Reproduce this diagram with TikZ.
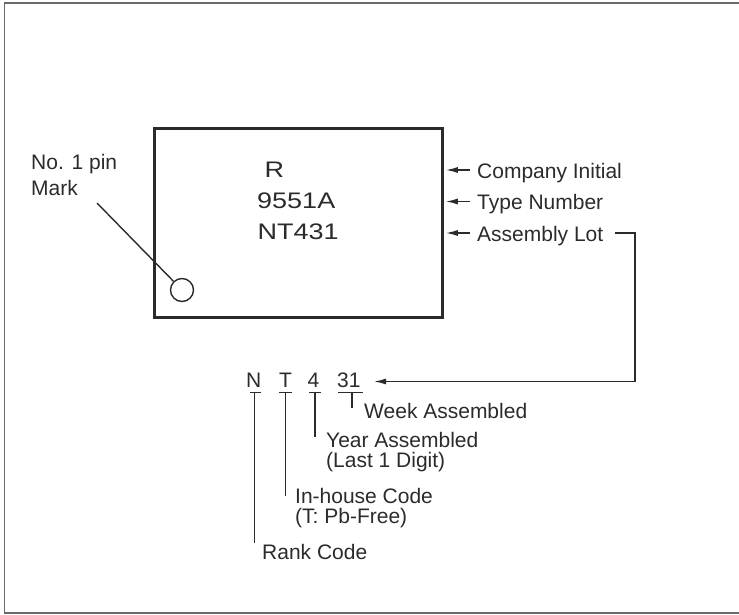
\documentclass[tikz,border=0pt]{standalone}
\usepackage{fontspec}
\setmainfont{Liberation Sans}
\newfontfamily\chipfont[FakeStretch=1.2]{Liberation Sans}
\usetikzlibrary{arrows.meta}
\definecolor{ink}{HTML}{2B2B2B}
\definecolor{framec}{HTML}{6A6A6A}
\tikzset{
  lbl/.style={anchor=base west, inner sep=0pt, text=ink, align=left,
              font=\fontsize{21}{20}\selectfont},
  chiplbl/.style={anchor=base west, inner sep=0pt, text=ink,
              font=\chipfont\fontsize{22.5}{27}\selectfont},
  thin/.style={draw=ink, line width=1.4pt},
  thick/.style={draw=ink, line width=2.8pt},
  tip/.style={-{Latex[length=12pt,width=6pt]}},
  frameline/.style={draw=framec, line width=1.6pt}
}
\begin{document}
\begin{tikzpicture}[x=1pt,y=-1pt]
\useasboundingbox (0,0) rectangle (739,615);
% outer frame (right side open)
\draw[frameline] (739,3) -- (4.5,3) -- (4.5,613) -- (739,613);

% chip body
\node[thick, rectangle, inner sep=0pt, minimum width=288pt, minimum height=189pt, anchor=north west] (chip) at (153,127) {};
\node[circle, thin, minimum size=23pt, inner sep=0pt] (pin) at (182,290) {};

% chip marking
\node[chiplbl] (mR) at (264.5,177) {R};
\node[chiplbl] (mType) at (257,208.5) {9551A};
\node[chiplbl] (mLot) at (257.5,239) {NT431};

% pin mark label (base anchor = last line)
\node[lbl, font=\fontsize{21}{25.7}\selectfont] (pinlbl) at (31,195.7) {No. 1 pin\\Mark};
\coordinate (pinstart) at (97,203);
\draw[thin] (pinstart) -- (pin);

% right side labels
\node[lbl] (company) at (477,178.3) {Company Initial};
\node[lbl] (typeno) at (477,209.3) {Type Number};
\node[lbl] (lot) at (477,241) {Assembly Lot};
\coordinate (a1) at (470,170);
\coordinate (a2) at (470,201.5);
\coordinate (a3) at (470,233);
\draw[thin,tip] (a1) -- ([xshift=2pt]a1 -| chip.east);
\draw[thin,tip] (a2) -- ([xshift=2pt]a2 -| chip.east);
\draw[thin,tip] (a3) -- ([xshift=2pt]a3 -| chip.east);

% lot code breakdown
\node[lbl] (cN) at (246,387.3) {N};
\node[lbl] (cT) at (279,387.3) {T};
\node[lbl] (c4) at (307.5,387.3) {4};
\node[lbl] (c31) at (337,387.3) {31};

\coordinate (lotA) at (615,233);
\coordinate (lotB) at (635,233);
\coordinate (lotC) at (635,381.5);
\coordinate (lotTip) at (374,381.5);
\draw[thin,tip] (lotA) -- (lotB) -- (lotC) -- (lotTip);

% underlines and leaders
\draw[thin] (250,392.5) -- (261,392.5) (254.5,392.5) -- (254.5,543);
\draw[thin] (279,392.5) -- (292,392.5) (285.5,392.5) -- (285.5,496);
\draw[thin] (309,392.5) -- (321,392.5) (315,392.5) -- (315,437);
\draw[thin] (338,392.5) -- (363,392.5) (352,392.5) -- (352,408);

\node[lbl] (week) at (364,418) {Week Assembled};
\node[lbl] (year) at (326,467) {Year Assembled\\(Last 1 Digit)};
\node[lbl] (inhouse) at (295,523) {In-house Code\\(T: Pb-Free)};
\node[lbl] (rank) at (262,559) {Rank Code};
\end{tikzpicture}
\end{document}
